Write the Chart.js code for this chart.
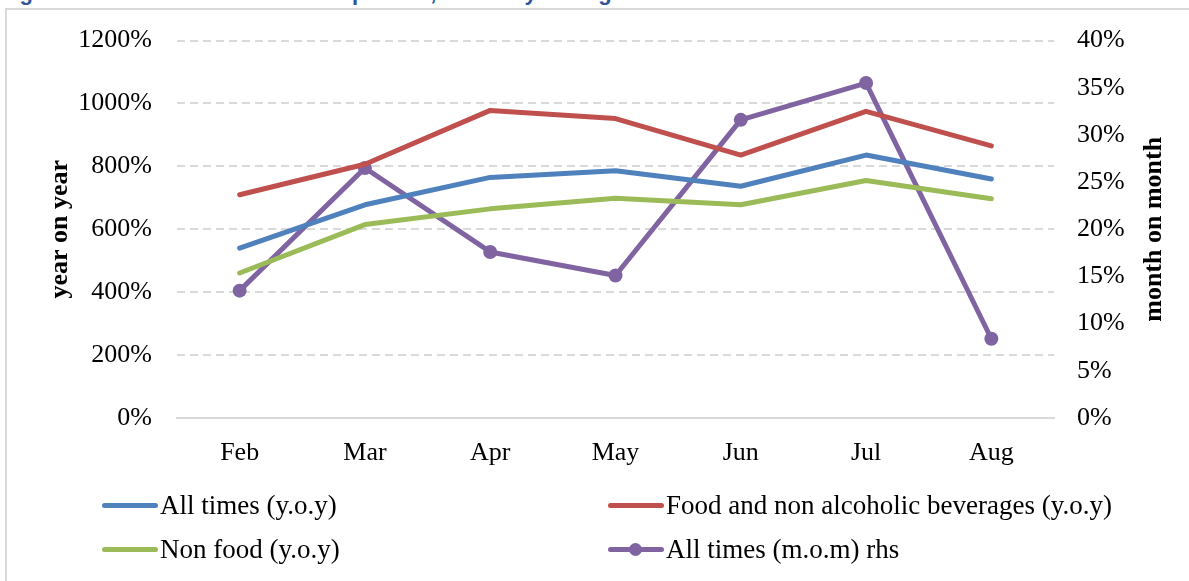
<!DOCTYPE html>
<html lang="en">
<head>
  <meta charset="UTF-8" />
  <title>Trend in inflation developments</title>
  <style>
    html, body { margin: 0; padding: 0; background: #fff; overflow: hidden; }
    body { width: 1189px; height: 581px; position: relative; }
    .fig-title {
      position: absolute; left: 0; top: -18px; margin: 0;
      font: bold 22px "Liberation Sans", Arial, sans-serif; color: #2f5597;
      line-height: 22px; white-space: nowrap;
    }
    .frame {
      position: absolute; left: 5px; top: 8px; width: 1400px; height: 800px;
      border: 2px solid #d9d9d9;
    }
    #chart { position: absolute; left: 0; top: 0; }
    .legend {
      position: absolute; font: 27px "Liberation Serif", "Times New Roman", serif; color: #000;
    }
    .legend .item { position: absolute; white-space: nowrap; display: flex; align-items: center; height: 30px; }
    .legend .swatch { width: 56px; height: 5px; border-radius: 3px; margin-right: 2px; position: relative; }
    .legend .dot { position: absolute; left: 21px; top: -4px; width: 13px; height: 13px; border-radius: 50%; }
  </style>
</head>
<body>
  <div class="fig-title">Figure 4: Trend in inflation developments, February to August 2020</div>
  <div class="frame"></div>
  <canvas id="chart" width="1189" height="581"></canvas>
  <div class="legend" id="legend"></div>

<script src="https://cdn.jsdelivr.net/npm/chart.js"></script>
<script>
  const months = ['Feb', 'Mar', 'Apr', 'May', 'Jun', 'Jul', 'Aug'];
  const allItemsYoy = [540, 678, 765, 786, 737, 836, 760];
  const foodYoy = [710, 807, 978, 952, 836, 975, 865];
  const nonFoodYoy = [461, 615, 665, 699, 678, 755, 697];
  const allItemsMom = [13.5, 26.5, 17.6, 15.1, 31.6, 35.5, 8.4];

  const seriesNames = [
    'All times (y.o.y)',
    'Food and non alcoholic beverages (y.o.y)',
    'Non food (y.o.y)',
    'All times (m.o.m) rhs'
  ];
  const seriesColors = ['#4f81bd', '#c0504d', '#9bbb59', '#8064a2'];

  const serif = '"Liberation Serif", "Times New Roman", serif';

  // right axis title reads bottom-to-top, so it is drawn here
  const rightTitle = {
    id: 'rightTitle',
    afterDraw(chart) {
      const { ctx, chartArea } = chart;
      ctx.save();
      ctx.translate(1154, (chartArea.top + chartArea.bottom) / 2);
      ctx.rotate(-Math.PI / 2);
      ctx.font = 'bold 26px ' + serif;
      ctx.fillStyle = '#000';
      ctx.textAlign = 'center';
      ctx.textBaseline = 'middle';
      ctx.fillText('month on month', 0, 0);
      ctx.restore();
    }
  };

  const lineDs = (label, data, color) => ({
    label, data, yAxisID: 'y',
    borderColor: color, backgroundColor: color,
    borderWidth: 5, pointRadius: 0, tension: 0,
    borderCapStyle: 'round', borderJoinStyle: 'round'
  });

  new Chart(document.getElementById('chart'), {
    type: 'line',
    data: {
      labels: months,
      datasets: [
        lineDs(seriesNames[0], allItemsYoy, seriesColors[0]),
        lineDs(seriesNames[1], foodYoy, seriesColors[1]),
        lineDs(seriesNames[2], nonFoodYoy, seriesColors[2]),
        {
          label: seriesNames[3], data: allItemsMom, yAxisID: 'y1',
          borderColor: seriesColors[3], backgroundColor: seriesColors[3],
          borderWidth: 5, pointRadius: 7, pointBorderWidth: 0,
          tension: 0, borderCapStyle: 'round', borderJoinStyle: 'round'
        }
      ]
    },
    options: {
      responsive: false,
      animation: false,
      layout: { padding: { left: 10, right: 10, top: 37, bottom: 113 } },
      plugins: { legend: { display: false }, tooltip: { enabled: false } },
      scales: {
        x: {
          offset: true,
          grid: { display: false },
          border: { display: true, color: '#d9d9d9', width: 2 },
          ticks: { color: '#000', font: { family: serif, size: 26 }, padding: 12 },
          afterFit: s => { s.height = 50; }
        },
        y: {
          position: 'left',
          min: 0, max: 1200,
          ticks: {
            stepSize: 200, color: '#000', padding: 25,
            font: { family: serif, size: 26 },
            callback: v => v + '%'
          },
          grid: { color: '#d9d9d9', lineWidth: 2, drawTicks: false },
          border: { display: false, dash: [8, 5] },
          title: {
            display: true, text: 'year on year', color: '#000',
            font: { family: serif, size: 26, weight: 'bold' },
            padding: { top: 35, bottom: 0 }
          },
          afterFit: s => { s.width = 167; }
        },
        y1: {
          position: 'right',
          min: 0, max: 40,
          ticks: {
            stepSize: 5, color: '#000', padding: 23,
            font: { family: serif, size: 26 },
            callback: v => v + '%'
          },
          grid: { display: false, drawTicks: false },
          border: { display: false },
          afterFit: s => { s.width = 125; }
        }
      }
    },
    plugins: [rightTitle]
  });

  // legend laid out as a 2 x 2 grid like the original
  const legendSpots = [[102, 490], [608, 490], [102, 534], [608, 534]];
  const legendEl = document.getElementById('legend');
  seriesNames.forEach((name, i) => {
    const item = document.createElement('div');
    item.className = 'item';
    item.style.left = legendSpots[i][0] + 'px';
    item.style.top = legendSpots[i][1] + 'px';
    const sw = document.createElement('span');
    sw.className = 'swatch';
    sw.style.background = seriesColors[i];
    if (i === 3) {
      const dot = document.createElement('span');
      dot.className = 'dot';
      dot.style.background = seriesColors[i];
      sw.appendChild(dot);
    }
    item.appendChild(sw);
    item.appendChild(document.createTextNode(name));
    legendEl.appendChild(item);
  });
</script>
</body>
</html>
